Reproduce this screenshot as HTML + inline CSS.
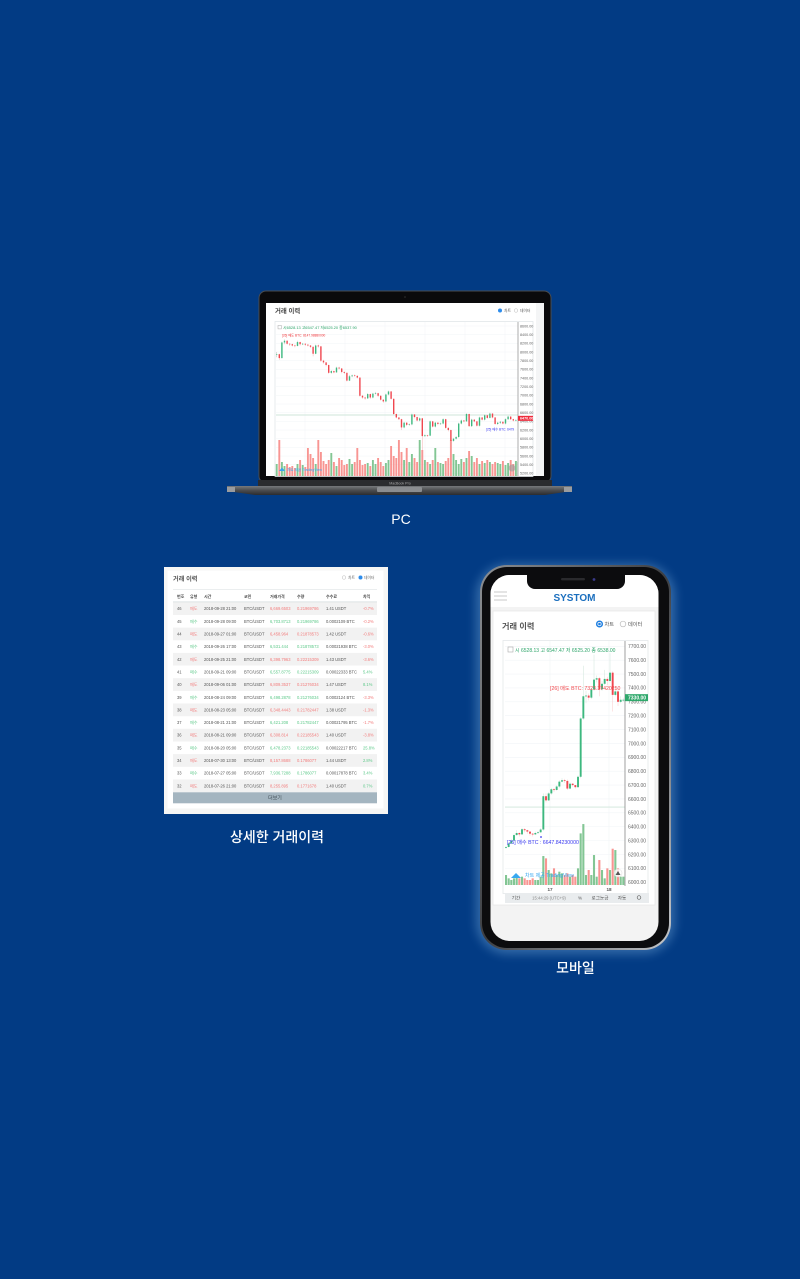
<!DOCTYPE html>
<html lang="ko">
<head>
<meta charset="utf-8">
<title>SYSTOM 거래 이력</title>
<style>
html,body{margin:0;padding:0;background:#023b84;}
body{width:800px;height:1279px;overflow:hidden;}
svg{display:block;}
text{font-family:"Liberation Sans","Noto Sans CJK KR",sans-serif;}
.cap{fill:#fff;font-size:14px;text-anchor:middle;font-weight:500;}
.tb{font-size:4.1px;fill:#555;}
.r{fill:#f27c7c;}
.g{fill:#5ec98a;}
.h{font-size:4px;fill:#444;font-weight:700;}
.softer{filter:blur(0.35px);}
</style>
</head>
<body>
<svg id="root" width="800" height="1279" viewBox="0 0 800 1279" xmlns="http://www.w3.org/2000/svg">
<defs>
<linearGradient id="baseGrad" x1="0" y1="0" x2="0" y2="1"><stop offset="0" stop-color="#77797c"/><stop offset=".5" stop-color="#4a4b4e"/><stop offset="1" stop-color="#2a2b2e"/></linearGradient>
<linearGradient id="rimGrad" x1="0" y1="0" x2="1" y2="1"><stop offset="0" stop-color="#8d9094"/><stop offset=".5" stop-color="#3c3e42"/><stop offset="1" stop-color="#c5c8cc"/></linearGradient>
<filter id="glow" x="-20%" y="-20%" width="140%" height="140%"><feGaussianBlur stdDeviation="5"/></filter>
<clipPath id="pcClip"><rect x="275" y="322" width="243" height="154"/></clipPath>
<clipPath id="mobClip"><rect x="505" y="641" width="120" height="244"/></clipPath>
</defs>

<g>
  <rect x="259" y="291" width="292" height="192" rx="7" fill="#0a0a0c" stroke="#4a4c50" stroke-width="1"/>
  <circle cx="405" cy="297" r="0.8" fill="#333"/>
  <rect x="266" y="303" width="278" height="173" fill="#ffffff"/>
  <rect x="258" y="480" width="294" height="6" fill="#2b2c2f"/>
  <text x="400" y="484.5" font-size="3.6" fill="#aaa" text-anchor="middle">MacBook Pro</text>
  <path d="M227 486H572V491L545 495H255L227 491Z" fill="url(#baseGrad)"/>
  <rect x="227" y="487" width="8" height="5" fill="#9a9c9f"/>
  <rect x="564" y="487" width="8" height="5" fill="#9a9c9f"/>
  <rect x="377" y="487" width="45" height="5" rx="1" fill="#8b8d90"/>
</g>
<g class="softer">
  <rect x="536" y="303" width="8" height="173" fill="#f4f5f6"/>
  <text x="275" y="313" font-size="6.4" font-weight="700" fill="#444">거래 이력</text>
  <circle cx="500" cy="310.5" r="2" fill="#2d8ceb"/>
  <text x="504" y="312" font-size="3.8" fill="#555">차트</text>
  <circle cx="516" cy="310.5" r="1.8" fill="#fff" stroke="#bbb" stroke-width=".5"/>
  <text x="520" y="312" font-size="3.8" fill="#555">데이터</text>
  <rect x="275" y="321.5" width="258" height="155" fill="#fff" stroke="#dde3e6" stroke-width=".7"/>
  <g id="pcChart"></g>
  <rect x="278" y="325.5" width="3.4" height="3.4" fill="none" stroke="#aaa" stroke-width=".5"/>
  <text x="283" y="328.8" font-size="3.9" fill="#2ea56a">시6528.13 고6547.47 저6525.20 종6537.90</text>
  <text x="282" y="336.5" font-size="3.2" fill="#f0383c">[26] 매도 BTC: 8147.98880000</text>
  <text x="486" y="430.5" font-size="3.2" fill="#3a3af0">[25] 매수 BTC: 6479</text>
  <path d="M279 471l3-3.4 3 3.4z" fill="#38a8f0"/>
  <text x="287" y="471" font-size="3.6" fill="#38a8f0">차트 제공 TradingView</text>
  <circle cx="512" cy="468" r="3.5" fill="#999" opacity=".6"/>
</g>
<text class="cap" x="401" y="524">PC</text>

<g class="softer">
  <rect x="164" y="567" width="224" height="247" fill="#f6f6f5"/>
  <rect x="167.5" y="570.5" width="216" height="238" fill="#fff"/>
  <text x="173" y="581" font-size="6.2" font-weight="700" fill="#555">거래 이력</text>
  <circle cx="344" cy="577.5" r="1.8" fill="#fff" stroke="#bbb" stroke-width=".5"/>
  <text x="348" y="579" font-size="3.8" fill="#666">차트</text>
  <circle cx="360.5" cy="577.5" r="2" fill="#2d8ceb"/>
  <text x="364" y="579" font-size="3.8" fill="#666">데이터</text>
  <line x1="173" x2="377" y1="589.5" y2="589.5" stroke="#e4e8ea" stroke-width=".7"/>
  <g>
    <text class="h" x="177" y="598">번호</text><text class="h" x="190" y="598">유형</text><text class="h" x="204" y="598">시간</text><text class="h" x="244" y="598">코인</text><text class="h" x="270" y="598">거래가격</text><text class="h" x="297" y="598">수량</text><text class="h" x="326" y="598">수수료</text><text class="h" x="363" y="598">차익</text>
  </g>
  <line x1="173" x2="377" y1="602" y2="602" stroke="#c9d0d4" stroke-width=".8"/>

  <g><rect x="173" y="602.3" width="204" height="12.7" fill="#f2f2f2"/><text class="tb" x="177" y="610.2">46</text><text class="tb r" x="190" y="610.2">매도</text><text class="tb" x="204" y="610.2">2018-09-28 21:00</text><text class="tb" x="244" y="610.2">BTC/USDT</text><text class="tb r" x="270" y="610.2">6,669.6503</text><text class="tb r" x="297" y="610.2">0.21969786</text><text class="tb" x="326" y="610.2">1.41 USDT</text><text class="tb r" x="363" y="610.2">-0.7%</text></g>
  <g><text class="tb" x="177" y="622.9">45</text><text class="tb g" x="190" y="622.9">매수</text><text class="tb" x="204" y="622.9">2018-09-28 09:00</text><text class="tb" x="244" y="622.9">BTC/USDT</text><text class="tb g" x="270" y="622.9">6,703.8713</text><text class="tb g" x="297" y="622.9">0.21969786</text><text class="tb" x="326" y="622.9">0.0002109 BTC</text><text class="tb r" x="363" y="622.9">-0.2%</text></g>
  <g><rect x="173" y="627.6" width="204" height="12.7" fill="#f2f2f2"/><text class="tb" x="177" y="635.5">44</text><text class="tb r" x="190" y="635.5">매도</text><text class="tb" x="204" y="635.5">2018-09-27 01:00</text><text class="tb" x="244" y="635.5">BTC/USDT</text><text class="tb r" x="270" y="635.5">6,458.964</text><text class="tb r" x="297" y="635.5">0.21878573</text><text class="tb" x="326" y="635.5">1.42 USDT</text><text class="tb r" x="363" y="635.5">-0.6%</text></g>
  <g><text class="tb" x="177" y="648.2">43</text><text class="tb g" x="190" y="648.2">매수</text><text class="tb" x="204" y="648.2">2018-09-26 17:00</text><text class="tb" x="244" y="648.2">BTC/USDT</text><text class="tb g" x="270" y="648.2">6,531.444</text><text class="tb g" x="297" y="648.2">0.21878573</text><text class="tb" x="326" y="648.2">0.00021938 BTC</text><text class="tb r" x="363" y="648.2">-3.0%</text></g>
  <g><rect x="173" y="652.9" width="204" height="12.7" fill="#f2f2f2"/><text class="tb" x="177" y="660.8">42</text><text class="tb r" x="190" y="660.8">매도</text><text class="tb" x="204" y="660.8">2018-09-25 21:00</text><text class="tb" x="244" y="660.8">BTC/USDT</text><text class="tb r" x="270" y="660.8">6,398.7963</text><text class="tb r" x="297" y="660.8">0.22215309</text><text class="tb" x="326" y="660.8">1.43 USDT</text><text class="tb r" x="363" y="660.8">-3.6%</text></g>
  <g><text class="tb" x="177" y="673.5">41</text><text class="tb g" x="190" y="673.5">매수</text><text class="tb" x="204" y="673.5">2018-09-21 09:00</text><text class="tb" x="244" y="673.5">BTC/USDT</text><text class="tb g" x="270" y="673.5">6,557.8775</text><text class="tb g" x="297" y="673.5">0.22215309</text><text class="tb" x="326" y="673.5">0.00022333 BTC</text><text class="tb g" x="363" y="673.5">5.4%</text></g>
  <g><rect x="173" y="678.2" width="204" height="12.7" fill="#f2f2f2"/><text class="tb" x="177" y="686.1">40</text><text class="tb r" x="190" y="686.1">매도</text><text class="tb" x="204" y="686.1">2018-09-06 01:00</text><text class="tb" x="244" y="686.1">BTC/USDT</text><text class="tb r" x="270" y="686.1">6,809.3537</text><text class="tb r" x="297" y="686.1">0.21276034</text><text class="tb" x="326" y="686.1">1.47 USDT</text><text class="tb g" x="363" y="686.1">8.1%</text></g>
  <g><text class="tb" x="177" y="698.8">39</text><text class="tb g" x="190" y="698.8">매수</text><text class="tb" x="204" y="698.8">2018-08-24 09:00</text><text class="tb" x="244" y="698.8">BTC/USDT</text><text class="tb g" x="270" y="698.8">6,498.2878</text><text class="tb g" x="297" y="698.8">0.21276034</text><text class="tb" x="326" y="698.8">0.0002124 BTC</text><text class="tb r" x="363" y="698.8">-3.3%</text></g>
  <g><rect x="173" y="703.5" width="204" height="12.7" fill="#f2f2f2"/><text class="tb" x="177" y="711.4">38</text><text class="tb r" x="190" y="711.4">매도</text><text class="tb" x="204" y="711.4">2018-08-23 05:00</text><text class="tb" x="244" y="711.4">BTC/USDT</text><text class="tb r" x="270" y="711.4">6,348.4443</text><text class="tb r" x="297" y="711.4">0.21782447</text><text class="tb" x="326" y="711.4">1.38 USDT</text><text class="tb r" x="363" y="711.4">-1.3%</text></g>
  <g><text class="tb" x="177" y="724.1">37</text><text class="tb g" x="190" y="724.1">매수</text><text class="tb" x="204" y="724.1">2018-08-21 21:00</text><text class="tb" x="244" y="724.1">BTC/USDT</text><text class="tb g" x="270" y="724.1">6,421.208</text><text class="tb g" x="297" y="724.1">0.21782447</text><text class="tb" x="326" y="724.1">0.00021795 BTC</text><text class="tb r" x="363" y="724.1">-1.7%</text></g>
  <g><rect x="173" y="728.8" width="204" height="12.7" fill="#f2f2f2"/><text class="tb" x="177" y="736.7">36</text><text class="tb r" x="190" y="736.7">매도</text><text class="tb" x="204" y="736.7">2018-08-21 09:00</text><text class="tb" x="244" y="736.7">BTC/USDT</text><text class="tb r" x="270" y="736.7">6,308.814</text><text class="tb r" x="297" y="736.7">0.22185543</text><text class="tb" x="326" y="736.7">1.40 USDT</text><text class="tb r" x="363" y="736.7">-3.8%</text></g>
  <g><text class="tb" x="177" y="749.4">35</text><text class="tb g" x="190" y="749.4">매수</text><text class="tb" x="204" y="749.4">2018-08-20 05:00</text><text class="tb" x="244" y="749.4">BTC/USDT</text><text class="tb g" x="270" y="749.4">6,478.2373</text><text class="tb g" x="297" y="749.4">0.22185543</text><text class="tb" x="326" y="749.4">0.00022217 BTC</text><text class="tb g" x="363" y="749.4">25.8%</text></g>
  <g><rect x="173" y="754.1" width="204" height="12.7" fill="#f2f2f2"/><text class="tb" x="177" y="762">34</text><text class="tb r" x="190" y="762">매도</text><text class="tb" x="204" y="762">2018-07-30 13:00</text><text class="tb" x="244" y="762">BTC/USDT</text><text class="tb r" x="270" y="762">8,157.8688</text><text class="tb r" x="297" y="762">0.1786077</text><text class="tb" x="326" y="762">1.44 USDT</text><text class="tb g" x="363" y="762">2.8%</text></g>
  <g><text class="tb" x="177" y="774.7">33</text><text class="tb g" x="190" y="774.7">매수</text><text class="tb" x="204" y="774.7">2018-07-27 05:00</text><text class="tb" x="244" y="774.7">BTC/USDT</text><text class="tb g" x="270" y="774.7">7,936.7288</text><text class="tb g" x="297" y="774.7">0.1786077</text><text class="tb" x="326" y="774.7">0.00017878 BTC</text><text class="tb g" x="363" y="774.7">3.4%</text></g>
  <g><rect x="173" y="779.4" width="204" height="12.9" fill="#f2f2f2"/><text class="tb" x="177" y="787.3">32</text><text class="tb r" x="190" y="787.3">매도</text><text class="tb" x="204" y="787.3">2018-07-26 21:00</text><text class="tb" x="244" y="787.3">BTC/USDT</text><text class="tb r" x="270" y="787.3">8,255.895</text><text class="tb r" x="297" y="787.3">0.1771678</text><text class="tb" x="326" y="787.3">1.40 USDT</text><text class="tb g" x="363" y="787.3">0.7%</text></g>
  <rect x="173" y="792.3" width="204" height="11" fill="#a4b5c0"/>
  <text x="275" y="799.5" font-size="5" fill="#3d4a52" text-anchor="middle">더보기</text>
</g>
<text class="cap" x="277" y="842">상세한 거래이력</text>

<g>
  <rect x="476" y="564" width="199" height="390" rx="32" fill="#7fb2e0" opacity=".4" filter="url(#glow)"/>
  <rect x="480" y="565" width="191" height="385" rx="27" fill="url(#rimGrad)"/>
  <rect x="482" y="567" width="187" height="381" rx="25" fill="#0c0c0e"/>
  <rect x="490.5" y="575" width="168" height="366" rx="19" fill="#f3f3f3"/>
  <path d="M490.5 607V594a19 19 0 0 1 19-19H639.5a19 19 0 0 1 19 19V607Z" fill="#fff"/>
  <path d="M527 574H625V581a8 8 0 0 1-8 8H535a8 8 0 0 1-8-8Z" fill="#0c0c0e"/>
  <rect x="561" y="578" width="24" height="2.4" rx="1.2" fill="#2a2a2d"/>
  <circle cx="594" cy="579.5" r="1.4" fill="#3a3a8a"/>
</g>
<g class="softer">
  <g>
    <rect x="494" y="591.5" width="13" height="1" fill="#c8c8c8"/><rect x="494" y="595.5" width="13" height="1" fill="#c8c8c8"/><rect x="494" y="599.5" width="13" height="1" fill="#c8c8c8"/>
  </g>
  <text x="574.5" y="601" font-size="10" font-weight="700" fill="#1b6fbe" text-anchor="middle">SYSTOM</text>
  <rect x="493" y="611" width="162" height="294" fill="#fff" stroke="#e8e8e8" stroke-width=".8"/>
  <text x="502" y="629" font-size="8.2" font-weight="700" fill="#555">거래 이력</text>
  <circle cx="599.5" cy="624" r="2.8" fill="#fff" stroke="#1f7fe0" stroke-width="1.5"/>
  <circle cx="599.5" cy="624" r="1.3" fill="#1f7fe0"/>
  <text x="604.5" y="626" font-size="5.2" fill="#555">차트</text>
  <circle cx="623" cy="624" r="2.8" fill="#fff" stroke="#bbb" stroke-width=".7"/>
  <text x="628" y="626" font-size="5.2" fill="#555">데이터</text>
  <rect x="503" y="640.5" width="145" height="253" fill="#fff" stroke="#e4e8ea" stroke-width=".8"/>
  <g id="mobChart"></g>
  <rect x="508" y="647" width="5" height="5" fill="none" stroke="#aaa" stroke-width=".6"/>
  <text x="515" y="652" font-size="5" fill="#2ea56a">시 6528.13  고 6547.47  저 6525.20  종 6538.00</text>
  <text x="550" y="690" font-size="5.2" fill="#f0484c">[26] 매도 BTC: 7323.37420250</text>
  <text x="507" y="844" font-size="5.2" fill="#3a3af0">[25] 매수 BTC : 6647.84230000</text>
  <circle cx="541" cy="837" r=".9" fill="#3a3af0"/>
  <path d="M511 878l5-5 5 5z" fill="#38a8f0"/>
  <text x="525" y="877" font-size="5" fill="#38a8f0">차트 제공 TradingView</text>
  <circle cx="618" cy="873" r="4" fill="#fff" stroke="#ddd" stroke-width=".6" opacity=".8"/>
  <path d="M615.5 875l2.5-4 2.5 4z" fill="#555"/>
  <text x="550" y="891" font-size="4.6" font-weight="700" fill="#555" text-anchor="middle">17</text>
  <text x="609" y="891" font-size="4.6" font-weight="700" fill="#555" text-anchor="middle">18</text>
  <rect x="505" y="893" width="144" height="10" fill="#e9ecee"/>
  <text x="516" y="899.5" font-size="4.6" fill="#555" text-anchor="middle">기간</text>
  <text x="549" y="899.5" font-size="4.2" fill="#888" text-anchor="middle">15:44:29 (UTC+9)</text>
  <text x="580" y="899.5" font-size="4.6" fill="#555" text-anchor="middle">%</text>
  <text x="600" y="899.5" font-size="4.6" fill="#555" text-anchor="middle">로그눈금</text>
  <text x="622" y="899.5" font-size="4.6" fill="#555" text-anchor="middle">자동</text>
  <circle cx="639" cy="897.5" r="1.8" fill="none" stroke="#666" stroke-width=".7"/>
</g>
<text class="cap" x="575.5" y="973">모바일</text>
</svg>

<script>
const pcCloses = [7950,7860,8220,8260,8190,8180,8150,8140,8230,8180,8190,8170,8150,8120,7960,8150,8130,7800,7760,7700,7520,7560,7530,7640,7620,7540,7520,7340,7440,7460,7450,7410,6990,6950,6930,7030,6950,7040,7050,6990,6900,6860,7020,7090,6920,6570,6490,6450,6260,6370,6320,6330,6560,6500,6420,6470,6060,6080,6070,6400,6280,6370,6340,6350,6450,6250,6200,5950,6000,6040,6350,6420,6400,6570,6290,6440,6400,6300,6490,6440,6540,6480,6580,6490,6340,6370,6390,6350,6450,6510,6450,6420,6430,6458];
const pcHighs = [8000,7960,8240,8290,8270,8200,8190,8170,8260,8240,8210,8200,8180,8160,8130,8170,8170,8140,7820,7770,7710,7580,7570,7660,7660,7630,7550,7530,7470,7480,7480,7460,7420,7010,6970,7050,7040,7060,7080,7060,7000,6910,7040,7110,7100,6930,6580,6500,6460,6390,6380,6350,6580,6570,6510,6490,6480,6100,6090,6420,6410,6390,6380,6370,6470,6460,6260,6210,6020,6060,6370,6440,6430,6590,6580,6460,6450,6410,6510,6500,6560,6550,6600,6590,6500,6390,6410,6400,6470,6530,6520,6460,6450,6470];
const pcLows = [7880,7820,7850,8180,8170,8140,8130,8110,8130,8150,8160,8140,8130,8090,7900,7950,8100,7770,7730,7670,7500,7500,7510,7520,7600,7510,7490,7320,7330,7420,7430,7390,6970,6920,6900,6920,6920,6930,7020,6960,6880,6830,6840,7000,6900,6550,6470,6430,6200,6240,6290,6300,6310,6470,6400,6400,5500,6040,6040,6060,6260,6260,6310,6320,6330,6230,6170,5500,5930,5980,6020,6330,6380,6390,6270,6270,6380,6280,6280,6420,6420,6460,6470,6470,6320,6320,6340,6330,6330,6430,6430,6400,6400,6410];
const pcVolumes = [12,36,14,10,12,9,10,8,12,16,11,9,28,22,18,12,36,24,15,12,16,23,14,10,18,16,11,12,17,12,14,28,16,11,12,13,10,16,12,18,14,10,13,16,30,20,18,36,24,16,28,14,22,18,14,36,26,16,14,12,16,28,14,13,12,15,18,36,22,16,12,17,14,18,25,20,14,18,12,15,13,16,14,12,14,13,12,15,11,13,16,12,15,14];
const pcTickLabels = [8600,8400,8200,8000,7800,7600,7400,7200,7000,6800,6600,6400,6200,6000,5800,5600,5400,5200];
const pcLastPrice = 6470;
const pcLevelLine = 6547;

const mobCloses = [6254,6280,6300,6340,6355,6345,6382,6375,6365,6350,6345,6355,6360,6380,6620,6590,6640,6670,6665,6690,6725,6735,6730,6675,6710,6700,6685,6760,7180,7340,7345,7330,7390,7460,7470,7390,7430,7465,7450,7510,7350,7375,7300,7315,7315];
const mobHighs = [6262,6290,6310,6350,6375,6360,6392,6390,6378,6365,6355,6365,6370,6390,6640,6640,6650,6680,6680,6700,6735,6750,6745,6740,6720,6715,6700,6770,7190,7560,7380,7360,7400,7640,7490,7480,7450,7530,7480,7650,7520,7400,7390,7340,7330];
const mobLows = [6240,6250,6275,6295,6335,6330,6340,6360,6350,6335,6330,6340,6350,6355,6370,6575,6585,6630,6650,6660,6680,6720,6715,6665,6670,6690,6675,6680,6750,7170,7290,7310,7320,7380,7440,7340,7380,7420,7420,7440,7230,7340,7270,7290,7300];
const mobVolumes = [30,20,15,20,23,20,25,20,15,15,20,15,15,25,87,80,45,35,50,30,40,35,30,35,25,30,25,50,155,183,30,45,30,90,25,75,45,20,50,45,109,105,50,25,25];
const mobTickLabels = [7700,7600,7500,7400,7300,7200,7100,7000,6900,6800,6700,6600,6500,6400,6300,6200,6100,6000];
const mobLastPrice = 7330;
const mobLevelLine = 6542;

const NS = 'http://www.w3.org/2000/svg';
function make(parent, tag, attrs, label) {
  const el = document.createElementNS(NS, tag);
  for (const k in attrs) el.setAttribute(k, attrs[k]);
  if (label !== undefined) el.textContent = label;
  parent.appendChild(el);
  return el;
}

function drawChart(root, closes, highs, lows, volumes, ticks, last, level, cfg) {
  const priceY = p => cfg.topY + (ticks[0] - p) / (ticks[0] - ticks[1]) * cfg.stepY;
  const indexX = i => cfg.x0 + i * cfg.dx;
  const volY = v => cfg.volBase - v * cfg.volScale;

  ticks.forEach(t => {
    const grid = make(root, 'line', {x1: cfg.left, x2: cfg.axisX, y1: priceY(t), y2: priceY(t), stroke: '#f1f4f7', 'stroke-width': cfg.gridW});
    
    
    const lab = make(root, 'text', {x: cfg.axisX + cfg.labelDx, y: priceY(t) + cfg.labelFont * 0.36, 'font-size': cfg.labelFont, fill: '#666'}, t.toFixed(2));
    
    
  });
  cfg.vGrid.forEach(x => {
    const v = make(root, 'line', {x1: x, x2: x, y1: cfg.top, y2: cfg.volBase, stroke: '#f1f4f7', 'stroke-width': cfg.gridW});
    
    
  });

  const plot = make(root, 'g', {'clip-path': cfg.clip});
  
  

  const lvl = make(plot, 'line', {x1: cfg.left, x2: cfg.axisX, y1: priceY(level), y2: priceY(level), stroke: '#cfe6da', 'stroke-width': cfg.levelW});
  
  

  volumes.forEach((v, i) => {
    const up = i === 0 ? true : closes[i] >= closes[i - 1];
    const bar = make(plot, 'rect', {x: indexX(i) - cfg.volW / 2, y: volY(v), width: cfg.volW, height: cfg.volBase - volY(v), fill: up ? '#76c088' : '#f78a86', opacity: 0.9});
    
    
  });

  closes.forEach((c, i) => {
    const o = i === 0 ? c : closes[i - 1];
    const up = c >= o;
    const col = up ? '#3db87f' : '#f0474f';
    const hi = Math.max(highs[i] ?? c, o, c);
    const lo = Math.min(lows[i] ?? c, o, c);
    const wick = make(plot, 'line', {x1: indexX(i), x2: indexX(i), y1: priceY(hi), y2: priceY(lo), stroke: up ? cfg.wickUp : cfg.wickDown, 'stroke-width': cfg.wickW});
    
    
    const top = priceY(Math.max(o, c));
    const h = Math.max(priceY(Math.min(o, c)) - top, cfg.minBody);
    const body = make(plot, 'rect', {x: indexX(i) - cfg.bodyW / 2, y: top, width: cfg.bodyW, height: h, fill: col});
    
    
  });

  const axis = make(root, 'line', {x1: cfg.axisX, x2: cfg.axisX, y1: cfg.top, y2: cfg.bottom, stroke: '#777', 'stroke-width': cfg.axisW});
  
  

  const tag = make(root, 'rect', {x: cfg.axisX, y: priceY(last) - cfg.tagH / 2, width: cfg.tagW, height: cfg.tagH, fill: cfg.tagFill});
  
  
  const tagText = make(root, 'text', {x: cfg.axisX + cfg.labelDx, y: priceY(last) + cfg.labelFont * 0.36, 'font-size': cfg.labelFont, fill: '#fff', 'font-weight': 700}, last.toFixed(2));
  
  
}

drawChart(document.getElementById('pcChart'), pcCloses, pcHighs, pcLows, pcVolumes, pcTickLabels, pcLastPrice, pcLevelLine, {
  left: 276, axisX: 518, top: 322, bottom: 476, topY: 326, stepY: 8.67,
  x0: 276.7, dx: 2.6, volBase: 476, volScale: 1, volW: 1.9, bodyW: 1.4, wickW: 0.4, minBody: 0.6,
  wickUp: '#9fb5a8', wickDown: '#f09a9a', gridW: 0.5, levelW: 1, axisW: 0.6,
  labelDx: 2, labelFont: 3.7, tagW: 15, tagH: 5, tagFill: '#ef2b3c',
  vGrid: [305, 345, 385, 425, 465, 505], clip: 'url(#pcClip)'
});

drawChart(document.getElementById('mobChart'), mobCloses, mobHighs, mobLows, mobVolumes, mobTickLabels, mobLastPrice, mobLevelLine, {
  left: 505, axisX: 625, top: 641, bottom: 886, topY: 646.3, stepY: 13.88,
  x0: 506, dx: 2.667, volBase: 885, volScale: 0.333, volW: 2.1, bodyW: 1.9, wickW: 0.5, minBody: 0.8,
  wickUp: '#cfe6da', wickDown: '#f9c9c9', gridW: 0.6, levelW: 0.9, axisW: 0.7,
  labelDx: 3, labelFont: 5, tagW: 23, tagH: 7, tagFill: '#2fa86b',
  vGrid: [550, 609], clip: 'url(#mobClip)'
});
</script>
</body>
</html>
